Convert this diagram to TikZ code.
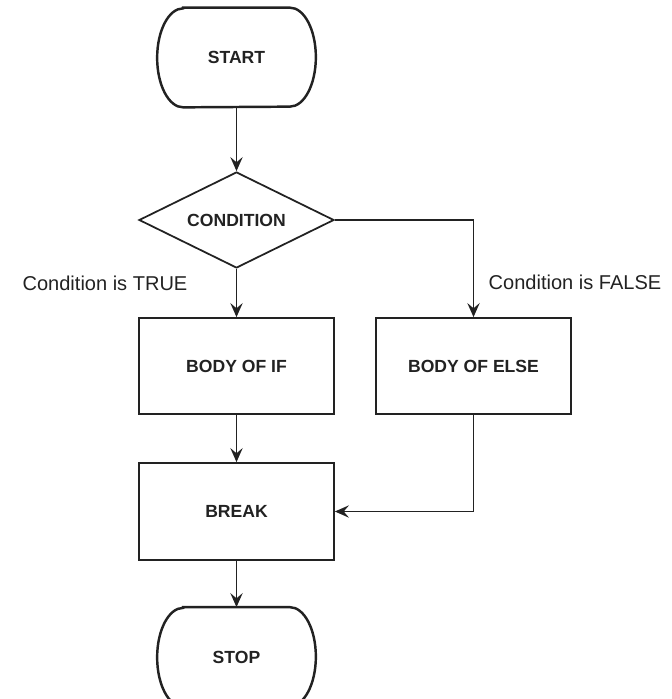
\documentclass[tikz,border=0pt]{standalone}
\usepackage{fontspec}
\setmainfont{Liberation Sans}
\usetikzlibrary{arrows.meta,shapes.geometric}
\definecolor{inkgray}{RGB}{34,34,34}

\begin{document}
\begin{tikzpicture}[>=Stealth, font=\fontsize{10}{12}\selectfont\bfseries, text=inkgray]
  \tikzset{
    flow/.style={-{Stealth[length=8pt, width=7pt, inset=3pt]}, line width=1pt, draw=inkgray},
    termbox/.style={minimum width=3.16cm, minimum height=1.98cm, inner sep=0pt},
    termline/.style={line width=1.4pt, draw=inkgray},
    procbox/.style={draw=inkgray, line width=1pt, minimum width=3.9cm, minimum height=1.92cm, inner sep=0pt},
    decbox/.style={draw=inkgray, line width=1pt, diamond, aspect=2, minimum width=3.9cm, minimum height=1.92cm, inner sep=0pt},
    note/.style={font=\fontsize{11.4}{13}\selectfont\mdseries}
  }

  % Page
  \useasboundingbox (0,0) rectangle (13.42,-13.98);
  \clip (0,0) rectangle (13.42,-13.98);

  % Main nodes
  \node[termbox] (start) at (4.73,-1.15) {START};
  \node[decbox]  (cond)  at (4.73,-4.40) {CONDITION};
  \node[procbox] (ifbody)   at (4.73,-7.32) {BODY OF IF};
  \node[procbox] (elsebody) at (9.47,-7.32) {BODY OF ELSE};
  \node[procbox, minimum height=1.94cm] (brk) at (4.73,-10.23) {BREAK};
  \node[termbox] (stop)  at (4.73,-13.14) {STOP};

  % Terminal outlines
  \foreach \t in {start,stop} {
    \draw[termline] ([xshift=0.52cm]\t.north west) -- ([xshift=-0.52cm]\t.north east)
      arc[start angle=90, end angle=-90, x radius=0.52cm, y radius=0.99cm]
      -- ([xshift=0.52cm]\t.south west)
      arc[start angle=270, end angle=90, x radius=0.52cm, y radius=0.99cm] -- cycle;
  }

  % Branch labels
  \node[note] (truelbl)  at (2.10,-5.66) {Condition is TRUE};
  \node[note] (falselbl) at (11.50,-5.64) {Condition is FALSE};

  % Flow arrows
  \draw[flow] (start.south) -- (cond.north);
  \draw[flow] (cond.south) -- (ifbody.north);
  \draw[flow] (cond.east) -| (elsebody.north);
  \draw[flow] (ifbody.south) -- (brk.north);
  \draw[flow] (elsebody.south) |- (brk.east);
  \draw[flow] (brk.south) -- (stop.north);

\end{tikzpicture}
\end{document}
